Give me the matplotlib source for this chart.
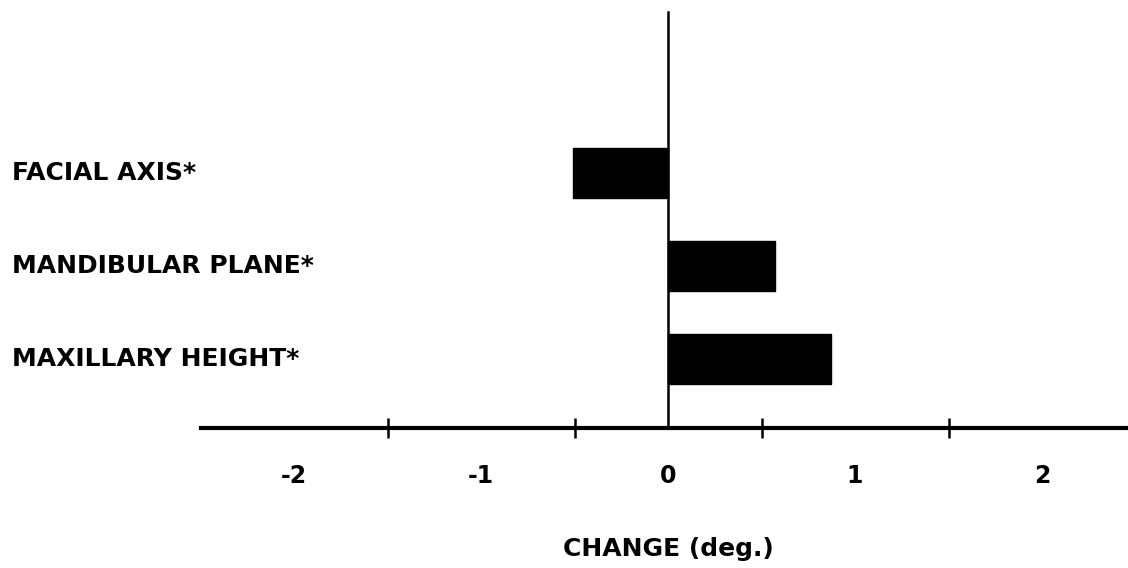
import matplotlib.pyplot as plt
from matplotlib import transforms

# data
measures = ['FACIAL AXIS*', 'MANDIBULAR PLANE*', 'MAXILLARY HEIGHT*']
change = [-0.51, 0.57, 0.87]
label_ticks = [-2, -1, 0, 1, 2]
mark_ticks = [-1.5, -0.5, 0.5, 1.5]

plt.rcParams['font.family'] = ['DejaVu Sans']

fig = plt.figure(figsize=(11.28, 5.68), dpi=100)
ax = fig.add_axes([0, 0, 1, 1])

# pixel -> data mapping: 187 px per degree, zero at x=668; rows 93 px apart
ax.set_xlim(-668 / 187, (1128 - 668) / 187)
ax.set_ylim((568 - 173) / 93, -173 / 93)

pos = list(range(len(measures)))
ax.barh(pos, change, height=0.53, color='black', edgecolor='black', zorder=3)

base_y = (428 - 173) / 93
ax.spines['top'].set_visible(False)
ax.spines['right'].set_visible(False)
ax.spines['bottom'].set_position(('data', base_y))
ax.spines['bottom'].set_bounds(-2.5, 3)
ax.spines['bottom'].set_linewidth(3)
ax.spines['left'].set_position(('data', 0))
ax.spines['left'].set_bounds(-161 / 93, base_y)
ax.spines['left'].set_linewidth(1.8)
ax.set_yticks([])

ax.set_xticks(mark_ticks)
ax.set_xticklabels([])
ax.tick_params(axis='x', which='major', direction='inout', length=15, width=1.8)
ax.set_xticks(label_ticks, minor=True)
ax.set_xticklabels([str(v) for v in label_ticks], minor=True)
ax.tick_params(axis='x', which='minor', length=0, pad=26, labelsize=17)
for t in ax.get_xticklabels(minor=True):
    t.set_fontweight('bold')

trans = transforms.blended_transform_factory(ax.transAxes, ax.transData)
for i, name in enumerate(measures):
    ax.text(12 / 1128, i, name, transform=trans, ha='left', va='center',
            fontsize=18, fontweight='bold')

xlab = transforms.blended_transform_factory(ax.transData, ax.transAxes)
ax.text(0, 1 - 549 / 568, 'CHANGE (deg.)', transform=xlab,
        ha='center', va='center', fontsize=18, fontweight='bold')

fig.savefig('out.png', dpi=100)
